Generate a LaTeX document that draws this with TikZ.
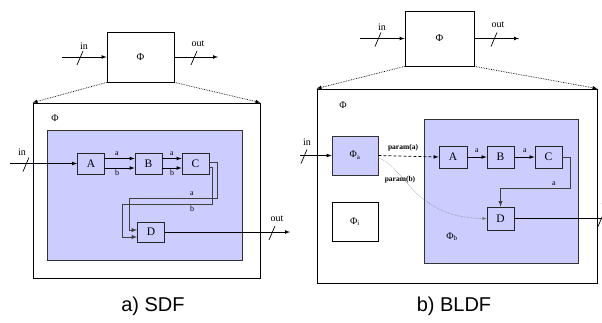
\documentclass[tikz,border=0pt]{standalone}
\usepackage{fontspec}
\setmainfont{Liberation Serif}
\newfontfamily\capfont{Liberation Sans}
\usepackage{xcolor}
\usetikzlibrary{positioning,shapes,arrows}
\definecolor{sdfblue}{RGB}{204,204,255}
\newcommand{\busmark}[1]{\draw[line width=0.7pt] (#1) ++(-3,8) -- ++(6,-14);}

\begin{document}
\begin{tikzpicture}[x=1pt, y=-1pt,
  frame/.style={draw, rectangle, inner sep=0pt, line width=0.8pt, font=\fontsize{10.5}{11}\selectfont},
  region/.style={draw=black!80, fill=sdfblue, rectangle, inner sep=0pt, line width=0.8pt},
  actor/.style={draw=black!85, rectangle, inner sep=0pt, minimum width=27pt, minimum height=21pt, line width=0.8pt, font=\fontsize{11.5}{12}\selectfont},
  flow/.style={->, >=latex, line width=0.7pt},
  bus/.style={->, >=latex, line width=0.9pt, black!75},
  zoomline/.style={->, >=latex, densely dotted, line width=0.7pt},
  lbl/.style={font=\fontsize{8}{9}\selectfont, inner sep=0pt},
  port/.style={font=\fontsize{10}{11}\selectfont, inner sep=0pt},
  param/.style={font=\bfseries\fontsize{7.5}{8}\selectfont, inner sep=0pt},
  subcap/.style={font=\capfont\fontsize{20}{22}\selectfont, inner sep=0pt}]
\useasboundingbox (0,0) rectangle (602,322);

% ---- a) SDF ----
% top level actor
\node[frame, minimum width=67pt, minimum height=50pt] (topS) at (140.5,57) {Φ};
\coordinate (inTopS) at (62,57);
\coordinate (outTopS) at (218,57);
\draw[flow] (inTopS) -- (topS.west);
\draw[flow] (topS.east) -- (outTopS);
\coordinate (inTopSm) at (80,57);
\coordinate (outTopSm) at (194,57);
\busmark{inTopSm}
\busmark{outTopSm}
\node[port] (inTopSl) at (84,46) {in};
\node[port] (outTopSl) at (198,44) {out};

% refinement
\node[frame, minimum width=227pt, minimum height=175pt] (outerS) at (146.5,190.5) {};
\draw[zoomline] (topS.south west) -- (outerS.north west);
\draw[zoomline] (topS.south east) -- (outerS.north east);
\node[port] (phiS) at (55,118) {Φ};
\node[region, minimum width=195pt, minimum height=130pt] (blueS) at (144.5,195) {};

\node[actor] (sA) at (91,163.5) {A};
\node[actor] (sB) at (148.5,163.5) {B};
\node[actor] (sC) at (195.5,163.5) {C};
\node[actor, minimum height=20pt] (sD) at (151,232) {D};

% token flows
\coordinate (inS) at (10,163.5);
\draw[flow] (inS) -- (sA.west);
\coordinate (inSm) at (26,163.5);
\busmark{inSm}
\node[port] (inSl) at (22,152) {in};

\draw[flow] ([yshift=5pt]sA.east) -- ([yshift=5pt]sB.west);
\draw[flow] ([yshift=-4.5pt]sA.east) -- ([yshift=-4.5pt]sB.west);
\draw[flow] ([yshift=5pt]sB.east) -- ([yshift=5pt]sC.west);
\draw[flow] ([yshift=-4.5pt]sB.east) -- ([yshift=-4.5pt]sC.west);
\node[lbl] (abA) at (117,154) {a};
\node[lbl] (bbA) at (117,173) {b};
\node[lbl] (abB) at (172,154) {a};
\node[lbl] (bbB) at (172,173) {b};

\draw[bus] ([yshift=1pt]sC.east) -| (217,198) -| ([xshift=-8pt,yshift=2pt]sD.west) -- ([yshift=2pt]sD.west);
\draw[bus] ([yshift=-4pt]sC.east) -| (212,204) -| ([xshift=-15pt,yshift=-5pt]sD.west) -- ([yshift=-5pt]sD.west);
\node[lbl] (acD) at (192,194) {a};
\node[lbl] (bcD) at (192,209) {b};

\coordinate (outS) at (290,232);
\draw[flow] (sD.east) -- (outS);
\coordinate (outSm) at (272,232);
\busmark{outSm}
\node[port] (outSl) at (277,219) {out};

\node[subcap] (capS) at (153,306) {a) SDF};

% ---- b) BLDF ----
\node[frame, minimum width=69pt, minimum height=55pt] (topB) at (439.5,38.5) {Φ};
\coordinate (inTopB) at (360,38.5);
\coordinate (outTopB) at (519,38.5);
\draw[flow] (inTopB) -- (topB.west);
\draw[flow] (topB.east) -- (outTopB);
\coordinate (inTopBm) at (378,38.5);
\coordinate (outTopBm) at (494,38.5);
\busmark{inTopBm}
\busmark{outTopBm}
\node[port] (inTopBl) at (382,27) {in};
\node[port] (outTopBl) at (498,25) {out};

\node[frame, minimum width=280pt, minimum height=194pt] (outerB) at (457,186) {};
\draw[zoomline] (topB.south west) -- (outerB.north west);
\draw[zoomline] (topB.south east) -- (outerB.north east);
\node[port] (phiB) at (343,105) {Φ};

\node[region, minimum width=46pt, minimum height=39pt, font=\fontsize{10}{11}\selectfont] (phiA) at (355,155.5) {Φ\textsubscript{a}};
\node[frame, minimum width=46pt, minimum height=39pt, font=\fontsize{10}{11}\selectfont] (phiI) at (355,221.5) {Φ\textsubscript{i}};
\node[region, minimum width=154pt, minimum height=144pt] (blueB) at (501,191) {};
\node[port] (phiBl) at (452,237) {Φ\textsubscript{b}};

\node[actor, minimum width=28pt, minimum height=22pt] (bA) at (453,157) {A};
\node[actor, minimum height=22pt] (bB) at (500.5,157) {B};
\node[actor, minimum height=22pt] (bC) at (548.5,157) {C};
\node[actor, minimum height=23pt] (bD) at (500.5,218.5) {D};

\coordinate (inB) at (300,155.5);
\draw[flow] (inB) -- (phiA.west);
\coordinate (inBm) at (304,155.5);
\busmark{inBm}
\node[port] (inBl) at (307,142) {in};

% parameters
\draw[flow, dashed, dash pattern=on 3pt off 2pt] (phiA.east) -- (bA.west);
\node[param] (parA) at (403,148) {param(a)};
\draw[->, >=latex, black!55, densely dotted, line width=0.5pt] ([yshift=-2pt]phiA.east) .. controls (405,168) and (415,218) .. (bD.west);
\node[param] (parB) at (400,180) {param(b)};

\draw[flow] (bA) -- (bB);
\draw[flow] (bB) -- (bC);
\node[lbl] (aAB) at (477,151) {a};
\node[lbl] (aBC) at (525,151) {a};
\draw[bus] (bC.east) -| (570,188) -| (bD.north);
\node[lbl] (aCD) at (554,184) {a};

\coordinate (outB) at (625,218.5);
\draw[flow] (bD.east) -- (outB);
\coordinate (outBm) at (601,218.5);
\busmark{outBm}
\node[port] (outBl) at (608,204) {out};

\node[subcap] (capB) at (454,306) {b) BLDF};
\end{tikzpicture}
\end{document}
